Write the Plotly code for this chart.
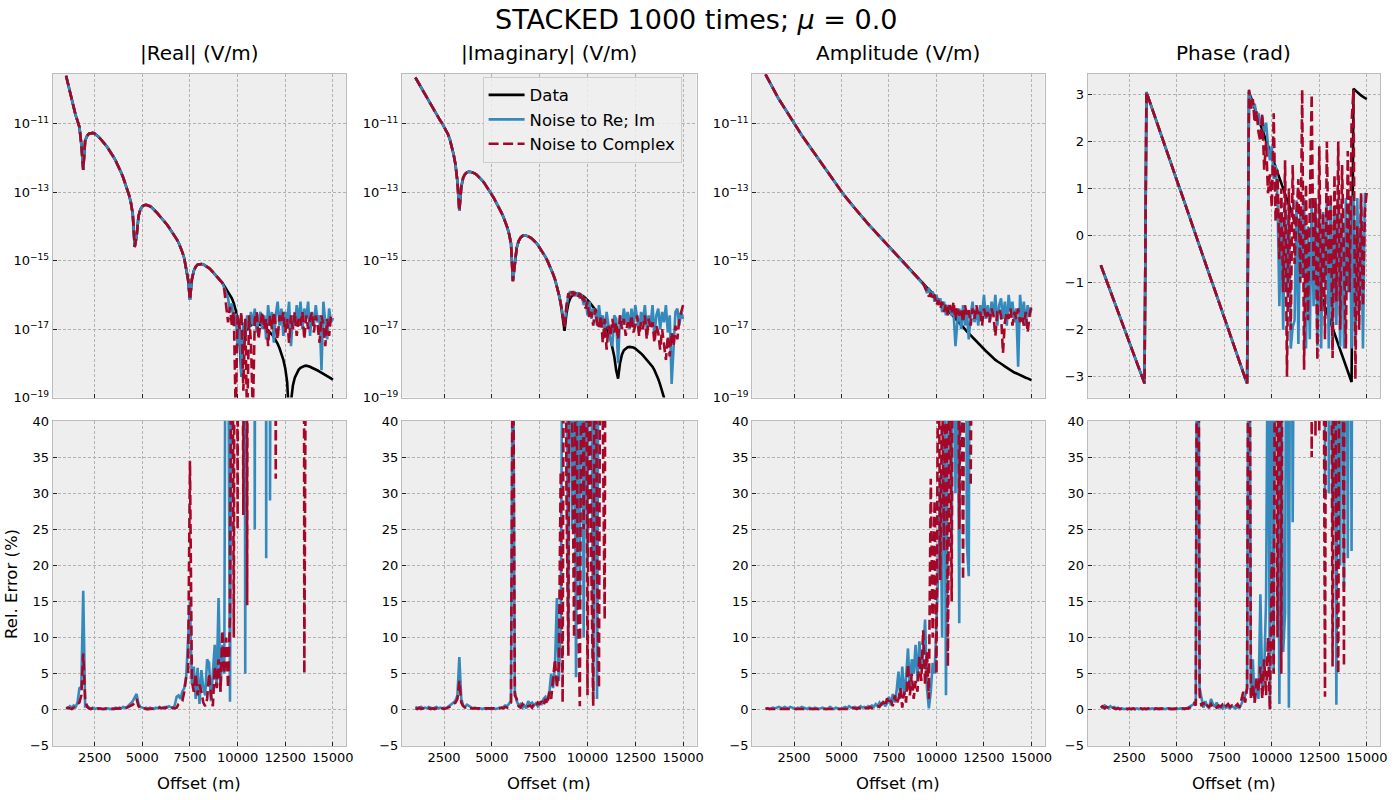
import plotly.graph_objects as go

# ---------------- data ----------------
offsets = list(range(1000, 15001, 100))  # 141 offsets, m
x_ticks = [2500, 5000, 7500, 10000, 12500, 15000]

# |Real| data, log10(V/m)
real_data_log = [
    -9.6, -9.85, -10.1, -10.35, -10.55, -10.75, -10.92, -11.1, -11.6, -12.35,
    -11.5, -11.36, -11.29, -11.27, -11.27, -11.29, -11.33, -11.38, -11.44, -11.5,
    -11.57, -11.64, -11.72, -11.8, -11.89, -11.98, -12.08, -12.19, -12.31, -12.44,
    -12.58, -12.73, -12.9, -13.08, -13.3, -13.65, -14.6, -14.3, -13.7, -13.5,
    -13.42, -13.38, -13.37, -13.38, -13.41, -13.45, -13.5, -13.56, -13.62, -13.69,
    -13.75, -13.81, -13.88, -13.95, -14.03, -14.11, -14.19, -14.28, -14.37, -14.47,
    -14.6, -14.75, -14.93, -15.2, -15.55, -16.15, -15.55, -15.3, -15.18, -15.12,
    -15.1, -15.1, -15.11, -15.14, -15.18, -15.22, -15.27, -15.33, -15.4, -15.45,
    -15.5, -15.57, -15.65, -15.74, -15.83, -15.93, -16.0, -16.1, -16.25, -16.45,
    -16.75, -17.2, -18.4, -17.35, -17.1, -16.98, -16.92, -16.88, -16.86, -16.85,
    -16.85, -16.86, -16.88, -16.9, -16.94, -16.99, -17.04, -17.1, -17.16, -17.23,
    -17.32, -17.43, -17.56, -17.72, -17.9, -18.15, -18.55, -19.6, -19.1, -18.65,
    -18.42, -18.28, -18.19, -18.13, -18.1, -18.08, -18.07, -18.08, -18.1, -18.13,
    -18.15, -18.18, -18.21, -18.24, -18.27, -18.3, -18.33, -18.36, -18.4, -18.44,
    -18.48]
# noisy parts from 9300 m on
real_re_tail_log = [
    -15.8, -15.95, -16.1, -16.5, -16.25, -16.9, -16.55,
    -17.5, -16.7, -18.4, -16.8, -17.2, -16.6, -17.0, -16.5, -16.9, -16.4,
    -17.1, -16.7, -16.5, -17.0, -16.6, -17.3, -16.3, -16.9, -16.5, -17.4,
    -16.6, -16.2, -16.9, -16.4, -17.2, -16.5, -16.8, -16.2, -17.5, -16.6,
    -16.9, -16.3, -16.8, -16.2, -17.0, -16.4, -16.7, -16.2, -17.2, -16.5,
    -16.9, -16.3, -16.8, -16.6, -18.2, -16.2, -16.8, -17.3, -16.4, -16.8,
    -16.7]
real_cx_tail_log = [
    -15.85, -16.3, -16.8, -16.35, -16.9, -16.5, -19.5,
    -16.6, -17.0, -16.5, -18.8, -16.7, -19.8, -16.6, -17.4, -19.5, -16.7,
    -16.5, -17.3, -16.8, -16.5, -17.0, -16.7, -17.5, -16.6, -17.0, -16.5,
    -16.9, -17.3, -16.6, -16.8, -16.5, -17.1, -16.7, -17.4, -16.6, -17.0,
    -16.5, -17.2, -16.7, -16.9, -16.5, -17.3, -16.6, -17.0, -16.7, -16.5,
    -17.1, -16.6, -16.9, -17.4, -16.6, -16.9, -17.5, -16.7, -17.2, -16.6,
    -16.7]

# |Imaginary| data, log10(V/m)
imag_data_log = [
    -9.65, -9.75, -9.85, -9.95, -10.05, -10.15, -10.25, -10.35, -10.45, -10.55,
    -10.64, -10.73, -10.82, -10.91, -10.99, -11.08, -11.18, -11.3, -11.45, -11.65,
    -11.9, -12.2, -12.7, -13.55, -12.85, -12.58, -12.47, -12.42, -12.4, -12.41,
    -12.42, -12.45, -12.49, -12.54, -12.6, -12.66, -12.73, -12.81, -12.9, -12.99,
    -13.08, -13.17, -13.27, -13.37, -13.48, -13.6, -13.72, -13.86, -14.02, -14.22,
    -14.5, -15.6, -15.0, -14.62, -14.43, -14.33, -14.28, -14.26, -14.27, -14.29,
    -14.32, -14.36, -14.41, -14.47, -14.54, -14.62, -14.7, -14.79, -14.89, -15.0,
    -15.12, -15.25, -15.39, -15.55, -15.75, -15.98, -16.25, -16.6, -17.05, -16.55,
    -16.25, -16.1, -16.02, -15.98, -15.96, -15.96, -15.98, -16.01, -16.05, -16.1,
    -16.15, -16.21, -16.28, -16.35, -16.43, -16.51, -16.6, -16.69, -16.79, -16.9,
    -17.0, -17.1, -17.28, -17.5, -17.8, -18.2, -18.45, -18.0, -17.75, -17.62,
    -17.56, -17.53, -17.52, -17.52, -17.54, -17.57, -17.61, -17.66, -17.71, -17.77,
    -17.83, -17.89, -17.95, -18.02, -18.1, -18.2, -18.32, -18.46, -18.62, -18.8,
    -19.0, -19.4, -20.0, -20.6, -21.0, -21.0, -21.0, -21.0, -21.0, -21.0,
    -21.0]
# noisy parts from 8700 m on
imag_re_tail_log = [
    -16.55, -16.85, -16.4,
    -16.0, -15.9, -16.0, -15.9, -16.0, -15.93, -16.1, -16.0, -16.3, -16.1,
    -16.6, -16.2, -16.7, -16.4, -16.5, -16.9, -16.3, -16.8, -16.6, -17.1,
    -16.5, -16.9, -17.3, -17.5, -16.6, -16.7, -18.0, -16.6, -16.9, -16.4,
    -16.8, -16.5, -17.0, -16.4, -16.9, -16.3, -16.7, -17.1, -16.5, -16.8,
    -16.3, -17.0, -16.6, -16.9, -16.3, -17.2, -16.6, -16.4, -17.0, -16.5,
    -16.8, -16.3, -17.1, -16.6, -18.6, -17.3, -16.5, -16.4, -16.9, -16.5,
    -16.7]
imag_cx_tail_log = [
    -16.6, -16.95, -16.3,
    -15.95, -16.1, -15.9, -16.0, -15.92, -16.05, -15.95, -16.2, -16.05, -16.4,
    -16.2, -16.7, -16.5, -16.9, -16.4, -16.8, -17.0, -16.6, -17.4, -16.7,
    -17.6, -16.9, -17.2, -16.7, -17.1, -16.8, -17.3, -16.6, -17.0, -16.7,
    -17.2, -16.8, -17.0, -16.6, -17.1, -16.9, -16.6, -17.2, -16.8, -17.0,
    -16.6, -17.3, -16.7, -17.0, -16.8, -17.4, -16.9, -17.1, -17.6, -17.0,
    -17.5, -17.9, -17.2, -17.8, -17.1, -17.5, -16.9, -17.3, -16.7, -16.5,
    -16.3]

# Amplitude data, log10(V/m)
amp_data_log = [
    -9.56, -9.67, -9.77, -9.88, -9.98, -10.09, -10.18, -10.28, -10.37, -10.47,
    -10.56, -10.65, -10.73, -10.82, -10.91, -11.0, -11.08, -11.16, -11.24, -11.33,
    -11.41, -11.49, -11.57, -11.65, -11.73, -11.81, -11.89, -11.97, -12.05, -12.13,
    -12.21, -12.29, -12.37, -12.44, -12.52, -12.6, -12.68, -12.76, -12.83, -12.91,
    -12.99, -13.06, -13.13, -13.19, -13.26, -13.33, -13.4, -13.47, -13.53, -13.6,
    -13.67, -13.73, -13.8, -13.86, -13.93, -13.99, -14.05, -14.12, -14.18, -14.25,
    -14.31, -14.37, -14.43, -14.49, -14.55, -14.62, -14.68, -14.74, -14.8, -14.86,
    -14.92, -14.97, -15.03, -15.09, -15.15, -15.21, -15.26, -15.32, -15.38, -15.44,
    -15.5, -15.55, -15.61, -15.67, -15.73, -15.79, -15.84, -15.9, -15.96, -16.02,
    -16.08, -16.14, -16.2, -16.26, -16.32, -16.38, -16.44, -16.5, -16.56, -16.62,
    -16.68, -16.75, -16.81, -16.88, -16.94, -17.0, -17.07, -17.13, -17.19, -17.25,
    -17.3, -17.36, -17.41, -17.47, -17.52, -17.58, -17.64, -17.69, -17.75, -17.8,
    -17.86, -17.9, -17.94, -17.97, -18.01, -18.05, -18.09, -18.13, -18.16, -18.2,
    -18.24, -18.27, -18.29, -18.32, -18.34, -18.37, -18.39, -18.42, -18.44, -18.47,
    -18.49]
# noisy parts from 9400 m on
amp_re_tail_log = [
    -15.75, -15.95, -15.8, -16.05, -15.9, -16.2,
    -16.0, -16.3, -16.1, -16.5, -16.2, -16.6, -16.3, -16.4, -16.6, -16.5,
    -17.5, -16.8, -16.4, -17.0, -16.3, -16.9, -16.5, -17.3, -16.6, -16.2,
    -16.8, -16.4, -16.9, -16.3, -16.6, -16.0, -16.7, -16.3, -16.8, -16.2,
    -16.6, -16.0, -16.9, -16.3, -16.1, -16.7, -16.2, -16.9, -16.0, -16.5,
    -16.2, -16.8, -16.4, -18.1, -16.0, -16.7, -16.2, -16.9, -16.3, -16.6,
    -16.4]
amp_cx_tail_log = [
    -15.8, -15.9, -16.05, -15.95, -16.15, -16.0,
    -16.3, -16.15, -16.4, -16.2, -16.5, -16.25, -16.6, -16.3, -16.55, -16.2,
    -16.7, -16.35, -16.6, -16.4, -16.8, -16.3, -16.6, -16.45, -16.9, -16.4,
    -16.7, -16.3, -16.6, -16.5, -16.9, -16.4, -16.7, -16.5, -16.8, -16.4,
    -16.6, -17.2, -16.5, -16.4, -16.6, -17.7, -16.8, -16.5, -16.7, -16.4,
    -16.9, -16.5, -16.7, -16.4, -16.8, -16.6, -16.9, -16.5, -17.1, -16.6,
    -16.3]

# Phase data, rad
phase_data = [
    -0.63, -0.74, -0.85, -0.96, -1.07, -1.18, -1.28, -1.39, -1.50, -1.61,
    -1.72, -1.83, -1.94, -2.05, -2.16, -2.27, -2.37, -2.48, -2.59, -2.70,
    -2.81, -2.92, -3.03, -3.14, 3.05, 2.93, 2.82, 2.70, 2.58, 2.47,
    2.35, 2.23, 2.12, 2.00, 1.88, 1.77, 1.65, 1.53, 1.42, 1.30,
    1.18, 1.06, 0.95, 0.83, 0.71, 0.60, 0.48, 0.36, 0.25, 0.13,
    0.01, -0.11, -0.22, -0.34, -0.46, -0.57, -0.69, -0.81, -0.93, -1.04,
    -1.16, -1.28, -1.39, -1.51, -1.63, -1.74, -1.86, -1.98, -2.09, -2.21,
    -2.33, -2.44, -2.56, -2.68, -2.79, -2.91, -3.03, -3.14, 3.05, 2.94,
    2.82, 2.71, 2.59, 2.48, 2.37, 2.25, 2.14, 2.02, 1.91, 1.80,
    1.68, 1.57, 1.45, 1.34, 1.23, 1.11, 1.00, 0.88, 0.77, 0.66,
    0.54, 0.43, 0.31, 0.20, 0.09, -0.03, -0.14, -0.26, -0.37, -0.48,
    -0.60, -0.71, -0.83, -0.94, -1.05, -1.17, -1.28, -1.40, -1.51, -1.62,
    -1.74, -1.85, -1.97, -2.08, -2.19, -2.31, -2.42, -2.54, -2.65, -2.76,
    -2.88, -2.99, -3.11, 3.12, 3.08, 3.04, 3.01, 2.98, 2.95, 2.92,
    2.90]
# noisy parts from 8800 m on
phase_re_tail = [
    3.08, 2.85,
    2.75, 2.8, 2.55, 2.6, 2.35, 2.5, 2.2, 2.4, 1.9, 1.6,
    1.9, 1.2, 1.5, 0.8, -1.5, 0.5, -2.0, 0.7, -1.2, 0.6,
    -2.4, -1.94, -1.8, 0.75, -2.3, 0.6, -0.9, 0.8, -2.4, 0.2,
    -2.2, 0.8, -1.5, 0.7, -2.35, 0.8, -2.4, 0.5, -1.0, 0.8,
    -2.4, 0.75, -2.4, 0.6, -1.9, 0.8, -2.35, 0.4, -2.4, 0.8,
    -1.2, 0.7, -2.4, 0.85, -2.35, 0.8, -1.6, 0.85, -2.4, 0.9,
    0.85]
phase_cx_tail = [
    3.1, 2.7,
    2.9, 2.4, 2.65, 2.2, 2.0, 2.6, 1.4, 2.0, 0.9, 1.3,
    0.6, 2.6, 0.3, 1.4, -0.5, 1.0, -1.2, 1.6, -3.0, 1.0,
    -2.0, 1.5, -0.6, 0.4, 1.2, -1.0, 3.1, -2.85, 1.1, -1.8,
    0.5, 3.0, -1.0, 0.8, -2.65, 1.9, -1.6, 0.5, -2.2, 2.0,
    -0.8, 0.9, -2.6, 1.3, -1.4, 2.0, -2.0, 1.5, -0.5, -2.4,
    1.8, -1.2, 2.4, 3.1, -3.05, 0.2, -2.0, 0.9, -1.5, 0.5,
    0.95]

# Relative errors (%)
real_err_re = [
    0.3, 0.2, 0.5, 0.3, 0.6, 0.4, 1.0, 3.0, 3.2, 16.5,
    0.5, 0.6, 0.3, 0.2, 0.3, 0.1, 0.2, 0.1, 0.2, 0.1,
    0.15, 0.1, 0.2, 0.1, 0.15, 0.1, 0.3, 0.2, 0.3, 0.2,
    0.4, 0.3, 0.4, 0.6, 0.9, 1.2, 1.8, 2.2, 0.8, 0.4,
    0.3, 0.2, 0.3, 0.1, 0.3, 0.2, 0.1, 0.3, 0.2, 0.4,
    0.3, 0.2, 0.4, 0.3, 0.5, 0.4, 0.2, 0.6, 1.8, 2.0,
    1.5, 2.5, 3.0, 4.5, 9.0, 15.0, 3.5, 6.0, 1.5, 5.8,
    0.8, 5.5, 3.0, 2.0, 7.0, 6.5, 1.2, 4.5, 9.0, 3.2,
    15.5, 2.5, 9.0, 5.0, 90, 60, 1.1, 70, 150, 200,
    100, 300, 80, 200, 5.0, 120, 400, 90, 300, 25,
    150, 500, 200, 100, 300, 21, 400, 29, 250, 600,
    300, 200, 500, 400, 300, 600, 200, 900, 300, 500,
    400, 700, 300, 500, 200, 600, 400, 800, 300, 500,
    700, 400, 600, 300, 900, 500, 400, 700, 300, 600,
    500]
real_err_cx = [
    0.2, 0.3, 0.2, 0.1, 0.3, 0.4, 0.8, 1.0, 2.0, 7.8,
    1.5, 0.4, 0.2, 0.1, 0.2, 0.1, 0.1, 0.2, 0.1, 0.1,
    0.1, 0.2, 0.1, 0.1, 0.2, 0.1, 0.1, 0.2, 0.1, 0.2,
    0.3, 0.2, 0.3, 0.4, 0.5, 0.7, 1.0, 1.5, 0.5, 0.2,
    0.1, 0.2, 0.1, 0.1, 0.2, 0.1, 0.2, 0.1, 0.2, 0.3,
    0.2, 0.3, 0.2, 0.4, 0.3, 0.2, 0.3, 0.2, 0.3, 0.8,
    1.0, 1.2, 2.5, 4.5, 5.0, 34.5, 4.0, 2.5, 5.0, 2.0,
    3.5, 2.5, 1.0, 0.5, 1.5, 5.0, 2.0, 0.5, 6.0, 3.0,
    7.0, 2.5, 11.0, 5.0, 10.0, 3.0, 13.0, 80, 10.0, 150,
    25, 200, 100, 27, 300, 14.5, 200, 300, 250, 400,
    400, 300, 500, 250, 600, 300, 400, 500, 350, 200,
    32, 300, 400, 600, 300, 500, 400, 700, 300, 500,
    400, 600, 500, 300, 300, 5.0, 200, 500, 400, 600,
    300, 500, 700, 400, 600, 300, 500, 400, 800, 600,
    400]
imag_err_re = [
    0.4, 0.3, 0.2, 0.4, 0.2, 0.3, 0.2, 0.4, 0.3, 0.2,
    0.3, 0.4, 0.2, 0.3, 0.2, 0.3, 0.2, 0.4, 0.5, 0.8,
    1.0, 1.3, 2.0, 7.3, 1.5, 0.6, 0.4, 0.7, 0.5, 0.3,
    0.2, 0.3, 0.2, 0.1, 0.2, 0.1, 0.2, 0.1, 0.2, 0.1,
    0.1, 0.2, 0.1, 0.2, 0.3, 0.2, 0.4, 0.6, 0.5, 0.9,
    1.2, 60, 2.5, 1.2, 0.6, 0.8, 0.3, 0.6, 0.2, 1.2,
    0.8, 1.0, 0.6, 0.9, 0.5, 1.0, 0.8, 1.5, 1.8, 1.2,
    2.2, 5.0, 3.0, 6.0, 15.5, 4.0, 12.0, 60, 100, 50,
    9.5, 80, 25, 70, 4.5, 60, 15, 90, 10, 60,
    20, 80, 50, 1.5, 60, 1.5, 70, 100, 200, 300,
    400, 300, 500, 600, 300, 400, 500, 300, 600, 400,
    500, 300, 600, 400, 700, 500, 300, 600, 400, 500,
    600, 400, 700, 300, 500, 600, 400, 800, 500, 300,
    600, 500, 400, 700, 300, 500, 600, 400, 700, 500,
    400]
imag_err_cx = [
    0.2, 0.1, 0.3, 0.1, 0.2, 0.1, 0.3, 0.2, 0.1, 0.2,
    0.1, 0.2, 0.1, 0.3, 0.2, 0.1, 0.2, 0.3, 0.4, 0.5,
    0.8, 1.0, 1.5, 4.0, 1.0, 0.5, 0.3, 0.4, 0.2, 0.2,
    0.1, 0.2, 0.1, 0.2, 0.1, 0.1, 0.2, 0.1, 0.1, 0.2,
    0.1, 0.2, 0.1, 0.1, 0.2, 0.3, 0.2, 0.4, 0.3, 0.6,
    1.0, 60, 2.0, 1.5, 0.5, 0.3, 0.8, 0.4, 0.3, 0.5,
    0.6, 0.3, 0.8, 0.5, 1.0, 0.8, 1.2, 0.6, 1.5, 0.8,
    2.5, 1.5, 4.0, 7.0, 3.0, 6.0, 33, 1.0, 100, 30,
    7.5, 120, 40, 10, 60, 14, 0.5, 70, 25, 90,
    2.0, 60, 20, 0.5, 80, 20, 3.0, 90, 40, 12.5,
    300, 500, 400, 600, 300, 500, 700, 400, 600, 300,
    500, 400, 600, 300, 700, 500, 400, 600, 300, 500,
    400, 600, 500, 300, 700, 400, 500, 600, 300, 500,
    600, 400, 500, 300, 600, 700, 400, 500, 600, 300,
    500]
amp_err_re = [
    0.1, 0.2, 0.1, 0.2, 0.3, 0.2, 0.3, 0.4, 0.3, 0.2,
    0.4, 0.3, 0.2, 0.4, 0.3, 0.2, 0.1, 0.3, 0.2, 0.4,
    0.3, 0.2, 0.1, 0.3, 0.2, 0.1, 0.3, 0.2, 0.1, 0.2,
    0.3, 0.2, 0.1, 0.2, 0.4, 0.2, 0.1, 0.3, 0.2, 0.1,
    0.2, 0.3, 0.4, 0.2, 0.5, 0.3, 0.2, 0.4, 0.3, 0.2,
    0.5, 0.3, 0.4, 0.2, 0.5, 0.3, 0.6, 0.4, 0.8, 0.5,
    1.0, 0.6, 1.2, 0.5, 0.9, 1.8, 0.6, 2.2, 1.0, 2.6,
    5.3, 1.5, 6.0, 2.0, 4.5, 8.5, 3.0, 7.0, 5.0, 9.0,
    4.0, 9.5, 6.0, 8.0, 12.5, 3.0, 0.2, 2.5, 6.5, 5.0,
    12, 20, 32.5, 10, 60, 2.0, 45, 70, 22, 80,
    30, 60, 12, 100, 50, 120, 23, 18.5, 100, 200,
    300, 500, 400, 600, 300, 500, 700, 400, 600, 300,
    500, 400, 600, 300, 700, 500, 400, 600, 300, 500,
    600, 400, 500, 300, 600, 700, 400, 500, 600, 300,
    500]
amp_err_cx = [
    0.1, 0.2, 0.1, 0.1, 0.2, 0.1, 0.2, 0.1, 0.2, 0.1,
    0.2, 0.1, 0.1, 0.2, 0.1, 0.2, 0.1, 0.1, 0.2, 0.1,
    0.2, 0.1, 0.2, 0.1, 0.1, 0.2, 0.1, 0.2, 0.1, 0.2,
    0.1, 0.2, 0.1, 0.2, 0.1, 0.2, 0.1, 0.2, 0.1, 0.2,
    0.2, 0.1, 0.2, 0.1, 0.2, 0.1, 0.3, 0.2, 0.1, 0.3,
    0.2, 0.3, 0.1, 0.3, 0.2, 0.4, 0.2, 0.3, 0.4, 0.5,
    0.4, 0.8, 1.0, 0.5, 1.6, 0.8, 1.3, 0.5, 2.0, 0.8,
    1.5, 3.0, 0.3, 2.5, 1.0, 6.3, 2.0, 5.0, 1.5, 4.0,
    2.5, 7.5, 4.0, 11.0, 3.5, 8.0, 1.5, 32, 10, 29,
    5.0, 60, 18, 45, 22, 60, 6.0, 50, 15, 100,
    40, 80, 25, 60, 18, 80, 40, 100, 31, 200,
    400, 300, 500, 600, 300, 500, 400, 700, 300, 600,
    500, 400, 600, 300, 500, 700, 400, 500, 600, 300,
    400, 600, 500, 300, 700, 400, 500, 600, 300, 500,
    400]
phase_err_re = [
    0.5, 0.3, 0.6, 0.4, 0.2, 0.5, 0.3, 0.4, 0.2, 0.3,
    0.1, 0.2, 0.1, 0.15, 0.1, 0.2, 0.1, 0.15, 0.1, 0.2,
    0.1, 0.15, 0.1, 0.2, 0.1, 0.15, 0.1, 0.2, 0.1, 0.15,
    0.1, 0.2, 0.1, 0.15, 0.1, 0.2, 0.1, 0.15, 0.1, 0.2,
    0.1, 0.15, 0.2, 0.1, 0.2, 0.15, 0.3, 0.4, 0.6, 0.8,
    1.2, 100, 3.0, 1.5, 0.3, 1.2, 0.5, 0.2, 1.5, 0.8,
    0.4, 1.0, 0.3, 0.5, 0.2, 0.6, 0.3, 0.4, 0.2, 0.5,
    0.3, 0.2, 0.4, 0.3, 0.8, 1.5, 2.0, 3.0, 80, 2.0,
    7.0, 1.0, 4.0, 1.5, 16, 3.0, 5.0, 15.5, 60, 0.3,
    80, 5.0, 90, 50, 0.8, 60, 8.0, 13.5, 90, 0.3,
    100, 26, 200, 300, 500, 400, 600, 300, 500, 400,
    600, 300, 500, 400, 700, 500, 300, 600, 30, 400,
    30, 80, 25, 60, 0.7, 70, 20, 80, 17, 90,
    21, 100, 22, 150, 300, 500, 400, 600, 300, 500,
    400]
phase_err_cx = [
    0.3, 0.5, 0.2, 0.4, 0.3, 0.1, 0.3, 0.2, 0.1, 0.2,
    0.1, 0.15, 0.1, 0.2, 0.1, 0.15, 0.1, 0.2, 0.1, 0.15,
    0.1, 0.2, 0.1, 0.15, 0.1, 0.2, 0.1, 0.15, 0.1, 0.2,
    0.15, 0.1, 0.2, 0.1, 0.15, 0.1, 0.2, 0.1, 0.15, 0.1,
    0.2, 0.1, 0.15, 0.2, 0.1, 0.2, 0.15, 0.3, 0.5, 0.9,
    0.6, 100, 2.0, 0.5, 1.0, 0.3, 0.6, 0.4, 0.8, 0.3,
    0.5, 0.3, 0.6, 0.4, 0.7, 0.3, 0.5, 0.8, 0.4, 0.6,
    0.3, 0.5, 0.8, 0.3, 1.5, 2.5, 1.0, 3.0, 90, 1.5,
    3.5, 1.0, 4.5, 2.5, 6.0, 1.5, 7.0, 2.0, 10.0, 0.0,
    22, 5.0, 80, 10, 90, 5.0, 100, 50, 200, 150,
    300, 500, 400, 600, 300, 500, 400, 700, 300, 500,
    200, 35, 100, 38, 150, 38.5, 100, 80, 1.8, 100,
    200, 90, 6.0, 80, 20, 5.0, 100, 80, 6.0, 300,
    400, 500, 300, 600, 400, 500, 700, 300, 500, 400,
    600]

for name, arr in [("real_data_log", real_data_log), ("imag_data_log", imag_data_log),
                  ("amp_data_log", amp_data_log), ("phase_data", phase_data),
                  ("real_err_re", real_err_re), ("real_err_cx", real_err_cx),
                  ("imag_err_re", imag_err_re), ("imag_err_cx", imag_err_cx),
                  ("amp_err_re", amp_err_re), ("amp_err_cx", amp_err_cx),
                  ("phase_err_re", phase_err_re), ("phase_err_cx", phase_err_cx)]:
    assert len(arr) == 141, (name, len(arr))
for name, arr, n in [("real_re_tail_log", real_re_tail_log, 58), ("real_cx_tail_log", real_cx_tail_log, 58),
                     ("imag_re_tail_log", imag_re_tail_log, 64), ("imag_cx_tail_log", imag_cx_tail_log, 64),
                     ("amp_re_tail_log", amp_re_tail_log, 57), ("amp_cx_tail_log", amp_cx_tail_log, 57),
                     ("phase_re_tail", phase_re_tail, 63), ("phase_cx_tail", phase_cx_tail, 63)]:
    assert len(arr) == n, (name, len(arr), n)

# full series (noise curves coincide with the data before the noisy tail)
def lin(v):
    return [10 ** a for a in v]

real_data = lin(real_data_log)
real_re = lin(real_data_log[:83] + real_re_tail_log)
real_cx = lin(real_data_log[:83] + real_cx_tail_log)
imag_data = lin(imag_data_log)
imag_re = lin(imag_data_log[:77] + imag_re_tail_log)
imag_cx = lin(imag_data_log[:77] + imag_cx_tail_log)
amp_data = lin(amp_data_log)
amp_re = lin(amp_data_log[:84] + amp_re_tail_log)
amp_cx = lin(amp_data_log[:84] + amp_cx_tail_log)
phase_re = phase_data[:78] + phase_re_tail
phase_cx = phase_data[:78] + phase_cx_tail

titles = ["|Real| (V/m)", "|Imaginary| (V/m)", "Amplitude (V/m)", "Phase (rad)"]

# ---------------- styling ----------------
BLACK, BLUE, RED = "#000000", "#348ABD", "#A60628"
LW = 2.6
DASH = "10px,4.5px"
FONT = "DejaVu Sans"

fig = go.Figure()

top_sets = [(real_data, real_re, real_cx), (imag_data, imag_re, imag_cx),
            (amp_data, amp_re, amp_cx), (phase_data, phase_re, phase_cx)]
bot_sets = [(real_err_re, real_err_cx), (imag_err_re, imag_err_cx),
            (amp_err_re, amp_err_cx), (phase_err_re, phase_err_cx)]

for i, (d, re_, cx) in enumerate(top_sets):
    xa = "x" if i == 0 else f"x{i+1}"
    ya = "y" if i == 0 else f"y{i+1}"
    show = (i == 0)
    fig.add_trace(go.Scatter(x=offsets, y=d, mode="lines", name="Data",
                             line=dict(color=BLACK, width=LW), xaxis=xa, yaxis=ya,
                             showlegend=show, legendgroup="d"))
    fig.add_trace(go.Scatter(x=offsets, y=re_, mode="lines", name="Noise to Re; Im",
                             line=dict(color=BLUE, width=LW), xaxis=xa, yaxis=ya,
                             showlegend=show, legendgroup="r"))
    fig.add_trace(go.Scatter(x=offsets, y=cx, mode="lines", name="Noise to Complex",
                             line=dict(color=RED, width=LW, dash=DASH), xaxis=xa, yaxis=ya,
                             showlegend=show, legendgroup="c"))

for i, (re_, cx) in enumerate(bot_sets):
    xa = f"x{i+5}"
    ya = f"y{i+5}"
    fig.add_trace(go.Scatter(x=offsets, y=re_, mode="lines", name="Noise to Re; Im",
                             line=dict(color=BLUE, width=LW), xaxis=xa, yaxis=ya,
                             showlegend=False, legendgroup="r"))
    fig.add_trace(go.Scatter(x=offsets, y=cx, mode="lines", name="Noise to Complex",
                             line=dict(color=RED, width=LW, dash=DASH), xaxis=xa, yaxis=ya,
                             showlegend=False, legendgroup="c"))

W, H = 1400, 800
col_px = [(53, 348), (404, 700), (756, 1050), (1093, 1387)]
top_px = (68, 398)
bot_px = (422, 753)

def xdom(c):
    return [col_px[c][0] / W, col_px[c][1] / W]

def ydom(r):
    return [1 - r[1] / H, 1 - r[0] / H]

common = dict(showgrid=True, gridcolor="#b2b2b2", griddash="3px,2px", gridwidth=0.7,
              zeroline=False, showline=True, linecolor="#bcbcbc", linewidth=1, mirror=True,
              ticks="inside", ticklen=4, tickwidth=1, tickcolor="#222222",
              tickfont=dict(family=FONT, size=13, color="#000000"))

layout_axes = {}
log_vals = [1e-19, 1e-17, 1e-15, 1e-13, 1e-11]
log_text = ["10<sup>\u221219</sup>", "10<sup>\u221217</sup>", "10<sup>\u221215</sup>",
            "10<sup>\u221213</sup>", "10<sup>\u221211</sup>"]
for c in range(4):
    kx = "xaxis" if c == 0 else f"xaxis{c+1}"
    ky = "yaxis" if c == 0 else f"yaxis{c+1}"
    ya_name = "y" if c == 0 else f"y{c+1}"
    xa_name = "x" if c == 0 else f"x{c+1}"
    layout_axes[kx] = dict(common, domain=xdom(c), range=[300, 15700], anchor=ya_name,
                           tickvals=x_ticks, showticklabels=False)
    if c < 3:
        layout_axes[ky] = dict(common, domain=ydom(top_px), type="log", range=[-19, -9.54],
                               anchor=xa_name, tickvals=log_vals, ticktext=log_text)
    else:
        layout_axes[ky] = dict(common, domain=ydom(top_px), range=[-3.44, 3.44],
                               anchor=xa_name, tickvals=[-3, -2, -1, 0, 1, 2, 3],
                               ticktext=["\u22123", "\u22122", "\u22121", "0", "1", "2", "3"])
    kx2 = f"xaxis{c+5}"
    ky2 = f"yaxis{c+5}"
    layout_axes[kx2] = dict(common, domain=xdom(c), range=[300, 15700], anchor=f"y{c+5}",
                            tickvals=x_ticks, ticktext=[str(v) for v in x_ticks])
    layout_axes[ky2] = dict(common, domain=ydom(bot_px), range=[-5, 40], anchor=f"x{c+5}",
                            tickvals=[-5, 0, 5, 10, 15, 20, 25, 30, 35, 40],
                            ticktext=["\u22125", "0", "5", "10", "15", "20", "25", "30", "35", "40"])

annotations = []
for c in range(4):
    cx_ = (col_px[c][0] + col_px[c][1]) / 2 / W
    annotations.append(dict(text=titles[c], x=cx_, y=1 - 47 / H, xref="paper", yref="paper",
                            showarrow=False, xanchor="center", yanchor="middle",
                            font=dict(family=FONT, size=20, color="#000000")))
    annotations.append(dict(text="Offset (m)", x=cx_, y=1 - 791 / H, xref="paper", yref="paper",
                            showarrow=False, xanchor="center", yanchor="middle",
                            font=dict(family=FONT, size=16.5, color="#000000")))
annotations.append(dict(text="Rel. Error (%)", x=12 / W, y=1 - 588 / H, xref="paper", yref="paper",
                        showarrow=False, xanchor="center", yanchor="middle", textangle=-90,
                        font=dict(family=FONT, size=16.5, color="#000000")))
annotations.append(dict(text="STACKED 1000 times; <i>\u03bc</i> = 0.0", x=0.5, y=1 - 13 / H,
                        xref="paper", yref="paper", showarrow=False,
                        xanchor="center", yanchor="middle",
                        font=dict(family=FONT, size=27, color="#000000")))

fig.update_layout(
    width=W, height=H, autosize=False,
    margin=dict(l=0, r=0, t=0, b=0),
    paper_bgcolor="white", plot_bgcolor="#eeeeee",
    font=dict(family=FONT, color="#000000"),
    annotations=annotations,
    legend=dict(x=485 / W, y=1 - 71 / H, xanchor="left", yanchor="top",
                bgcolor="rgba(238,238,238,0.85)", bordercolor="#cccccc", borderwidth=1,
                font=dict(family=FONT, size=16.5, color="#000000"),
                itemwidth=36, tracegroupgap=0),
    **layout_axes,
)

fig.write_html("out.html")
